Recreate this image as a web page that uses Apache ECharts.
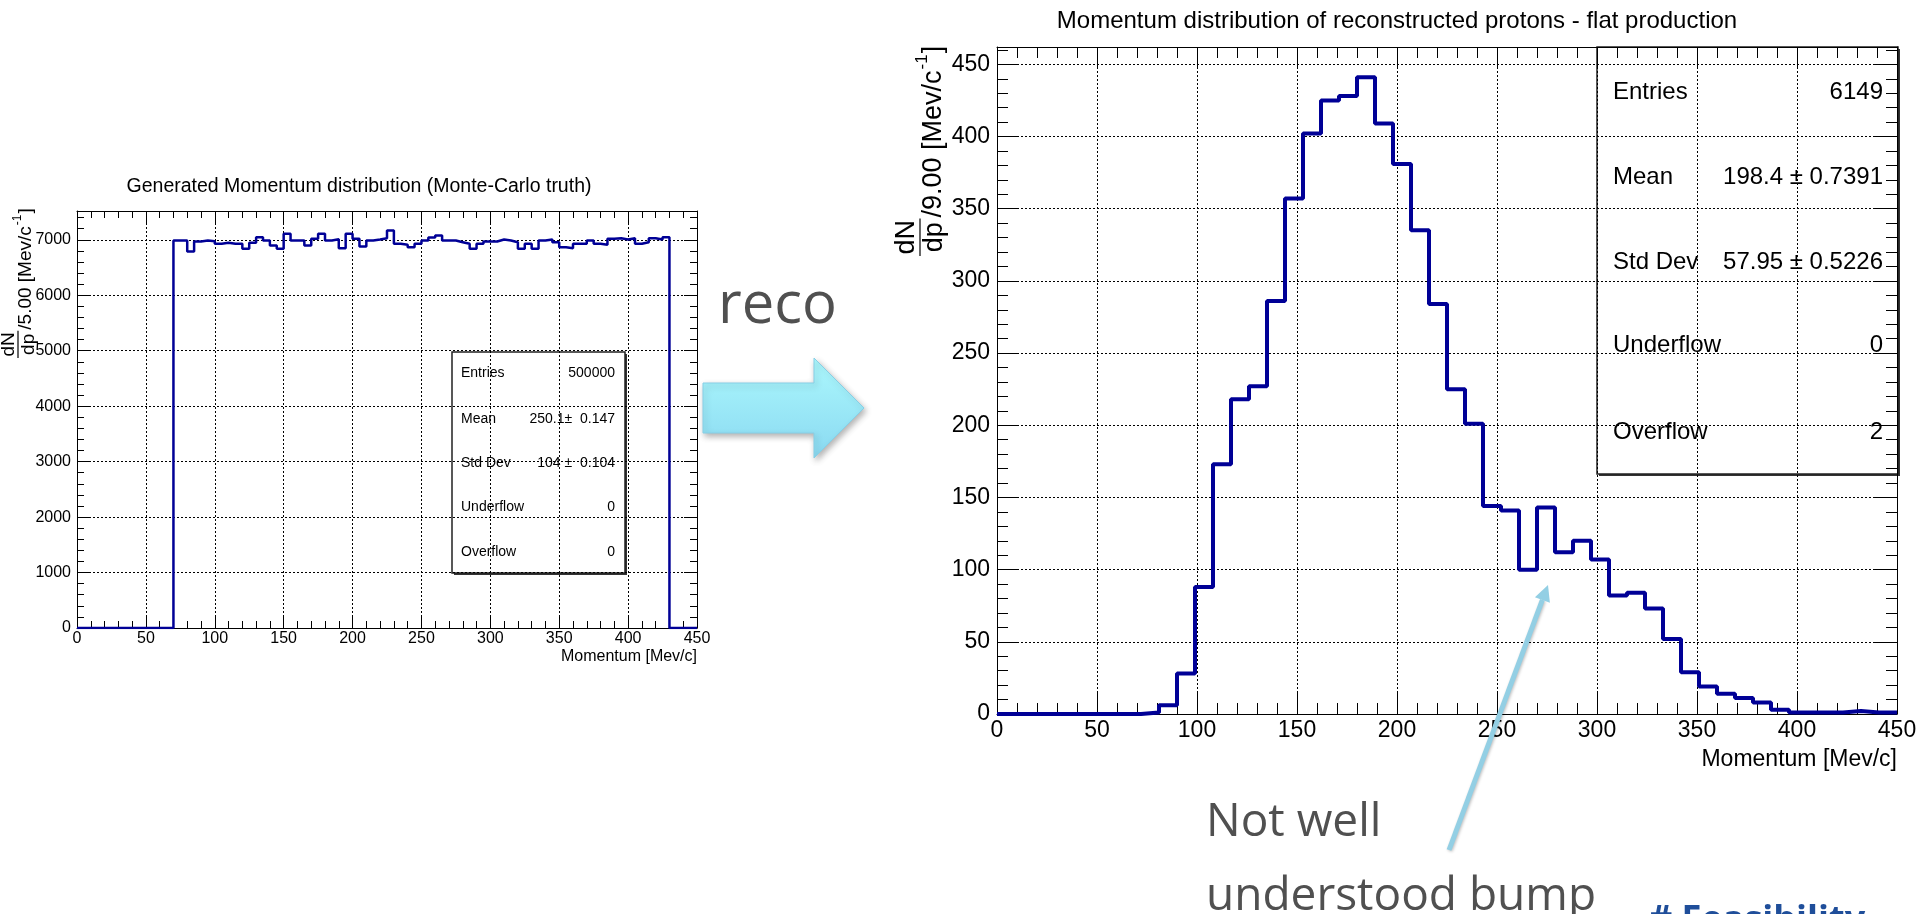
<!DOCTYPE html>
<html>
<head>
<meta charset="utf-8">
<title>Momentum distributions</title>
<script src="https://cdn.jsdelivr.net/npm/echarts@6/dist/echarts.min.js"></script>
<style>
  html, body { margin: 0; padding: 0; background: #ffffff; }
  #main { width: 1917px; height: 914px; }
</style>
</head>
<body>
<div id="main"></div>
<script>
// ---------------------------------------------------------------------------
// Data
// ---------------------------------------------------------------------------

// Generated momentum (Monte-Carlo truth): 90 bins of 5 MeV/c covering 0..450
const truthBinWidth = 5;
const truthCounts = [
  0, 0, 0, 0, 0, 0, 0, 0, 0, 0, 0, 0, 0, 0,
  6988, 6988, 6790, 6970, 6988, 6975, 6930, 6946, 6930, 6930, 6838, 6946,
  7048, 6988, 6898, 6838, 7108, 6988, 6988, 6898, 7018, 7108, 6988, 7010,
  6850, 7108, 7018, 6880, 6988, 7006, 7030, 7168, 6928, 6910, 6868, 6928,
  6988, 7040, 7078, 6988, 6988, 6958, 6928, 6838, 6928, 6970, 6970, 7006,
  6988, 6958, 6838, 6928, 6838, 6988, 7006, 6958, 6868, 6850, 6928, 6928,
  6988, 6928, 6910, 7018, 7030, 7006, 7030, 6928, 6958, 7030, 7006, 7048,
  0, 0, 0, 0
];

// Reconstructed protons, flat production: 50 bins of 9 MeV/c covering 0..450
const recoBinWidth = 9;
const recoCounts = [
  0, 0, 0, 0, 0, 0, 0, 0, 1, 6,
  28, 88, 173, 218, 227, 286, 357, 402, 425, 428,
  441, 409, 381, 335, 284, 225, 201, 144, 141, 100,
  143, 112, 120, 107, 82, 84, 73, 52, 29, 19,
  14, 11, 8, 3, 1, 1, 1, 2, 1, 1
];

// Axis ranges and tick steps
const momentumRange = [0, 450];
const momentumStep = 50;
const truthYRange = [0, 7520];
const truthYStep = 1000;
const truthYMinorStep = 200;
const recoYRange = [0, 462];
const recoYStep = 50;
const recoYMinorStep = 10;

// Statistics boxes
const truthStats = [
  ['Entries', '500000'],
  ['Mean', '250.1\u00b1  0.147'],
  ['Std Dev', '104 \u00b1  0.104'],
  ['Underflow', '0'],
  ['Overflow', '0']
];
const recoStats = [
  ['Entries', '6149'],
  ['Mean', '198.4 \u00b1 0.7391'],
  ['Std Dev', '57.95 \u00b1 0.5226'],
  ['Underflow', '0'],
  ['Overflow', '2']
];

// Text
const truthTitle = 'Generated Momentum distribution (Monte-Carlo truth)';
const recoTitle = 'Momentum distribution of reconstructed protons - flat production';
const xTitle = 'Momentum [Mev/c]';

// ---------------------------------------------------------------------------
// Layout and style
// ---------------------------------------------------------------------------
const FONT = '"Liberation Sans", Arial, Helvetica, sans-serif';
const SLIDE_FONT = '"Open Sans", "Noto Sans", sans-serif';
const HIST_COLOR = '#000096';

const LEFT = { left: 77, top: 211, width: 620, height: 417 };
const RIGHT = { left: 997, top: 47, width: 900, height: 667 };

const measureCtx = document.createElement('canvas').getContext('2d');
function textWidth(text, font) {
  measureCtx.font = font;
  return measureCtx.measureText(text).width;
}

// Step outline of a histogram: one point per bin low edge, plus the upper edge
function histPoints(counts, width) {
  const pts = counts.map((c, i) => [i * width, c]);
  pts.push([counts.length * width, counts[counts.length - 1]]);
  return pts;
}

const plainNumber = (v) => String(v);

// Frame axes of one pad: labelled bottom/left, tick-only top/right
function padAxes(gridIndex, yRange, yStep, yMinorStep, s) {
  const black = { color: '#000', width: 1 };
  const label = { color: '#000', fontFamily: FONT, fontSize: s.label, formatter: plainNumber };
  const xBase = {
    gridIndex, type: 'value', min: momentumRange[0], max: momentumRange[1], interval: momentumStep,
    axisLine: { show: true, onZero: false, lineStyle: black },
    axisTick: { show: true, inside: true, length: s.major, lineStyle: black },
    minorTick: { show: true, splitNumber: 5, length: s.minor, lineStyle: black },
    minorSplitLine: { show: false }
  };
  const xAxes = [
    Object.assign({}, xBase, {
      position: 'bottom',
      axisLabel: Object.assign({ margin: s.xMargin }, label),
      splitLine: { show: true, lineStyle: { color: '#000', width: 1, type: [2, 2] } }
    }),
    Object.assign({}, xBase, {
      position: 'top',
      axisLabel: { show: false },
      splitLine: { show: false }
    })
  ];
  const yMajor = {
    gridIndex, type: 'value', min: yRange[0], max: yRange[1], interval: yStep,
    axisLine: { show: true, onZero: false, lineStyle: black },
    axisTick: { show: true, inside: true, length: s.major, lineStyle: black }
  };
  const yMinor = {
    gridIndex, type: 'value', min: yRange[0], max: yRange[1], interval: yMinorStep,
    axisLine: { show: false, onZero: false },
    axisTick: { show: true, inside: true, length: s.minor, lineStyle: black },
    axisLabel: { show: false },
    splitLine: { show: false }
  };
  const yAxes = [
    Object.assign({}, yMajor, {
      position: 'left',
      axisLabel: Object.assign({ margin: s.yMargin, showMaxLabel: false }, label),
      splitLine: { show: true, lineStyle: { color: '#000', width: 1, type: [2, 2] } }
    }),
    Object.assign({}, yMinor, { position: 'left' }),
    Object.assign({}, yMajor, { position: 'right', axisLabel: { show: false }, splitLine: { show: false } }),
    Object.assign({}, yMinor, { position: 'right' })
  ];
  return { xAxes, yAxes };
}

// Rotated y title: (dN over dp) followed by "/<width> [Mev/c^-1]"
function yTitle(barX, bottomY, fracSize, mainSize, mainOffset, binText) {
  const fFrac = fracSize + 'px ' + FONT;
  const fMain = mainSize + 'px ' + FONT;
  const fSup = Math.round(mainSize * 0.62) + 'px ' + FONT;
  const fw = Math.max(textWidth('dN', fFrac), textWidth('dp', fFrac)) + 3;
  const main = '/' + binText + ' [Mev/c';
  const mainW = textWidth(main, fMain);
  const supW = textWidth('-1', fSup);
  const t = (text, x, y, font, va, align) => ({
    type: 'text', x, y,
    style: { text, font, fill: '#000', textAlign: align || 'left', textVerticalAlign: va }
  });
  return {
    type: 'group', x: barX, y: bottomY, rotation: Math.PI / 2,
    children: [
      { type: 'line', shape: { x1: 0, y1: 0, x2: fw, y2: 0 }, style: { stroke: '#000', lineWidth: 1.2 } },
      t('dN', fw / 2, 0, fFrac, 'bottom', 'center'),
      t('dp', fw / 2, 1, fFrac, 'top', 'center'),
      t(main, fw + 1, mainOffset, fMain, 'middle'),
      t('-1', fw + 1 + mainW + 1, mainOffset - mainSize * 0.42, fSup, 'middle'),
      t(']', fw + 1 + mainW + supW + 2, mainOffset, fMain, 'middle')
    ]
  };
}

// ROOT-style statistics box
function statsBox(x, y, w, h, rows, rowYs, padL, padR, fontSize) {
  const font = fontSize + 'px ' + FONT;
  const children = [
    { type: 'rect', shape: { x: x + 2, y: y + 2, width: w, height: h }, style: { fill: '#333' } },
    { type: 'rect', shape: { x, y, width: w, height: h }, style: { fill: '#fff', stroke: '#222', lineWidth: 1.5 } }
  ];
  rows.forEach((r, i) => {
    children.push({ type: 'text', x: x + padL, y: rowYs[i],
      style: { text: r[0], font, fill: '#000', textAlign: 'left', textVerticalAlign: 'middle' } });
    children.push({ type: 'text', x: x + w - padR, y: rowYs[i],
      style: { text: r[1], font, fill: '#000', textAlign: 'right', textVerticalAlign: 'middle' } });
  });
  return { type: 'group', z: 100, children };
}

// ---------------------------------------------------------------------------
// Chart
// ---------------------------------------------------------------------------
const leftAxes = padAxes(0, truthYRange, truthYStep, truthYMinorStep,
  { label: 16, major: 13, minor: 7, xMargin: 3, yMargin: 6 });
const rightAxes = padAxes(1, recoYRange, recoYStep, recoYMinorStep,
  { label: 23, major: 22, minor: 11, xMargin: 5, yMargin: 7 });

// Block arrow between the two pads
const ax = 703, ay = 383, bodyH = 50, headX = 814, tipX = 864, headOver = 25;
const blockArrow = [
  [ax, ay], [headX, ay], [headX, ay - headOver], [tipX, ay + bodyH / 2],
  [headX, ay + bodyH + headOver], [headX, ay + bodyH], [ax, ay + bodyH]
];

// Pointer to the bump
const tail = [1449, 850], tip = [1548, 585];
const dx = tip[0] - tail[0], dy = tip[1] - tail[1], len = Math.hypot(dx, dy);
const ux = dx / len, uy = dy / len, headLen = 16, headHalf = 8;
const base = [tip[0] - headLen * ux, tip[1] - headLen * uy];
const pointerHead = [
  tip,
  [base[0] + headHalf * uy, base[1] - headHalf * ux],
  [base[0] - headHalf * uy, base[1] + headHalf * ux]
];
const pointerColor = '#93cfe4';

const option = {
  backgroundColor: '#ffffff',
  animation: false,
  grid: [
    Object.assign({ outerBoundsMode: 'none', containLabel: false }, LEFT),
    Object.assign({ outerBoundsMode: 'none', containLabel: false }, RIGHT)
  ],
  xAxis: leftAxes.xAxes.concat(rightAxes.xAxes),
  yAxis: leftAxes.yAxes.concat(rightAxes.yAxes),
  series: [
    {
      name: 'truth', type: 'line', xAxisIndex: 0, yAxisIndex: 0,
      step: 'end', symbol: 'none', silent: true,
      data: histPoints(truthCounts, truthBinWidth),
      lineStyle: { color: HIST_COLOR, width: 2.5 }, z: 5
    },
    {
      name: 'reco', type: 'line', xAxisIndex: 2, yAxisIndex: 4,
      step: 'end', symbol: 'none', silent: true,
      data: histPoints(recoCounts, recoBinWidth),
      lineStyle: { color: HIST_COLOR, width: 4 }, z: 5
    }
  ],
  graphic: [
    // pad titles
    { type: 'text', x: 359, y: 187, style: { text: truthTitle, font: '19.5px ' + FONT, fill: '#000', textAlign: 'center', textVerticalAlign: 'middle' } },
    { type: 'text', x: 1397, y: 21, style: { text: recoTitle, font: '24px ' + FONT, fill: '#000', textAlign: 'center', textVerticalAlign: 'middle' } },
    // x titles
    { type: 'text', x: LEFT.left + LEFT.width, y: 657, style: { text: xTitle, font: '16px ' + FONT, fill: '#000', textAlign: 'right', textVerticalAlign: 'middle' } },
    { type: 'text', x: RIGHT.left + RIGHT.width, y: 760, style: { text: xTitle, font: '23px ' + FONT, fill: '#000', textAlign: 'right', textVerticalAlign: 'middle' } },
    // y titles
    yTitle(18, 358, 19, 19, 8, '5.00'),
    yTitle(920, 256, 27, 27, 14, '9.00'),
    // statistics
    statsBox(452, 352, 173, 221, truthStats, [373, 419, 463, 507, 552], 9, 10, 14),
    statsBox(1597, 47, 301, 427, recoStats, [92, 177, 262, 345, 432], 16, 15, 24),
    // "reco" arrow
    {
      type: 'polygon', z: 50,
      shape: { points: blockArrow },
      style: {
        fill: { type: 'linear', x: 0, y: 0, x2: 0, y2: 1, colorStops: [
          { offset: 0, color: '#acf8fd' }, { offset: 1, color: '#8ad9f1' } ] },
        stroke: '#86cfe6', lineWidth: 1,
        shadowBlur: 6, shadowColor: 'rgba(0,0,0,0.3)', shadowOffsetX: 2, shadowOffsetY: 3
      }
    },
    { type: 'text', x: 718, y: 306, style: { text: 'reco', font: '58px ' + SLIDE_FONT, fill: '#505050', textAlign: 'left', textVerticalAlign: 'middle' } },
    // annotation
    {
      type: 'line', z: 60,
      shape: { x1: tail[0], y1: tail[1], x2: base[0], y2: base[1] },
      style: { stroke: pointerColor, lineWidth: 5, shadowBlur: 3, shadowColor: 'rgba(0,0,0,0.25)', shadowOffsetX: 1, shadowOffsetY: 1 }
    },
    { type: 'polygon', z: 60, shape: { points: pointerHead }, style: { fill: pointerColor } },
    { type: 'text', x: 1206, y: 846, style: { text: 'Not well', font: '46px ' + SLIDE_FONT, fill: '#505050', textAlign: 'left', textVerticalAlign: 'bottom' } },
    { type: 'text', x: 1206, y: 920, style: { text: 'understood bump', font: '46px ' + SLIDE_FONT, fill: '#505050', textAlign: 'left', textVerticalAlign: 'bottom' } },
    // next bullet, running off the bottom edge
    { type: 'text', x: 1649, y: 939, style: { text: '# Feasibility', font: 'bold 36px ' + SLIDE_FONT, fill: '#1f4e9a', textAlign: 'left', textVerticalAlign: 'bottom' } }
  ]
};

const chart = echarts.init(document.getElementById('main'), null, { renderer: 'canvas', width: 1917, height: 914 });
chart.setOption(option);
</script>
</body>
</html>
